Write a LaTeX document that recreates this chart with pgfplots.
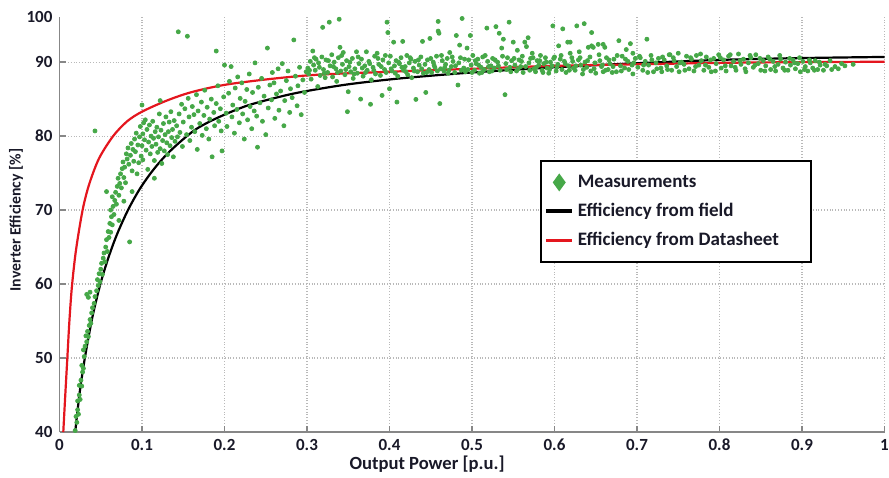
\documentclass[border=0pt]{standalone}
\usepackage{fontspec}
\setmainfont{Carlito}
\usepackage{pgfplots}
\usepackage{pgfplotstable}
\pgfplotsset{compat=1.18}
\definecolor{mygreen}{RGB}{70,168,72}
\definecolor{myred}{RGB}{228,22,30}
\definecolor{txt}{RGB}{25,25,40}
\definecolor{axgray}{RGB}{135,135,135}

\pgfplotstableread{
x y
0.019 40.2
0.021 41.3
0.020 42.1
0.022 43.0
0.023 42.4
0.022 44.2
0.024 45.0
0.025 44.4
0.024 46.3
0.026 47.0
0.027 46.2
0.028 48.1
0.027 49.0
0.029 48.6
0.030 50.2
0.029 51.1
0.031 51.6
0.033 52.2
0.032 53.0
0.034 53.6
0.035 52.9
0.036 54.4
0.037 55.2
0.038 54.7
0.039 56.1
0.040 56.8
0.042 57.4
0.033 58.6
0.035 58.2
0.037 58.9
0.043 58.3
0.045 59.1
0.047 59.8
0.046 60.6
0.049 60.3
0.048 61.4
0.050 62.0
0.052 61.3
0.051 62.8
0.053 63.5
0.055 63.0
0.054 64.2
0.056 65.0
0.058 64.4
0.057 66.0
0.059 67.1
0.057 72.5
0.060 66.3
0.061 68.2
0.062 67.0
0.063 69.1
0.064 68.0
0.062 70.0
0.065 70.5
0.066 69.4
0.067 71.3
0.064 71.8
0.068 72.4
0.069 70.8
0.070 73.2
0.072 72.0
0.073 73.6
0.071 74.3
0.074 74.9
0.075 73.0
0.076 75.6
0.078 74.4
0.077 76.5
0.079 75.8
0.080 73.7
0.082 76.9
0.081 77.6
0.084 76.2
0.085 65.7
0.083 78.4
0.086 77.4
0.087 79.0
0.088 75.3
0.089 78.2
0.090 76.6
0.091 79.6
0.092 77.9
0.093 80.4
0.094 74.9
0.095 78.8
0.096 76.4
0.097 79.9
0.098 81.3
0.099 77.3
0.043 80.7
0.072 68.6
0.078 71.2
0.088 72.5
0.100 78.7
0.101 80.3
0.102 81.8
0.101 76.8
0.103 79.5
0.104 82.2
0.105 78.1
0.106 80.9
0.107 75.5
0.108 79.2
0.109 81.5
0.110 77.6
0.111 80.0
0.112 78.6
0.113 82.0
0.114 79.7
0.115 76.7
0.116 80.6
0.117 78.9
0.118 81.2
0.119 77.8
0.120 79.9
0.121 83.0
0.122 78.3
0.123 80.8
0.124 76.3
0.125 79.4
0.126 81.7
0.127 78.0
0.128 80.2
0.129 82.6
0.130 79.1
0.131 77.5
0.132 80.6
0.133 81.9
0.134 78.7
0.135 83.3
0.136 79.8
0.137 80.9
0.138 77.2
0.139 82.1
0.140 79.3
0.100 84.2
0.122 84.8
0.115 74.3
0.142 81.4
0.143 79.9
0.144 94.1
0.145 83.0
0.146 80.5
0.148 84.3
0.149 78.6
0.150 81.9
0.152 83.7
0.154 80.2
0.155 93.5
0.156 85.1
0.157 82.6
0.158 79.4
0.160 81.2
0.161 84.0
0.163 82.9
0.164 80.6
0.166 85.6
0.167 78.2
0.168 83.4
0.170 81.7
0.172 84.6
0.173 80.1
0.175 82.8
0.176 86.2
0.178 81.0
0.179 83.9
0.181 79.6
0.182 82.3
0.184 85.0
0.185 77.2
0.187 83.2
0.188 81.4
0.190 91.5
0.190 84.4
0.192 86.8
0.193 82.0
0.195 83.7
0.196 80.7
0.197 78.0
0.199 85.3
0.200 89.6
0.202 83.1
0.203 81.3
0.205 85.8
0.206 87.4
0.208 89.4
0.209 82.6
0.210 84.2
0.212 80.4
0.213 86.5
0.215 83.6
0.216 88.0
0.218 81.8
0.219 85.1
0.221 87.2
0.222 83.0
0.224 79.6
0.225 84.7
0.227 86.3
0.228 82.2
0.230 88.4
0.231 84.0
0.233 81.0
0.234 85.9
0.236 83.4
0.237 89.9
0.239 82.7
0.240 78.5
0.241 86.6
0.243 84.5
0.245 87.8
0.246 82.0
0.248 85.4
0.250 80.2
0.252 91.9
0.253 83.8
0.255 86.9
0.257 84.9
0.258 88.6
0.260 87.2
0.261 82.4
0.263 85.7
0.265 89.1
0.266 83.5
0.268 86.1
0.270 89.8
0.272 81.4
0.273 84.8
0.275 87.5
0.277 88.8
0.279 83.2
0.280 86.4
0.282 85.2
0.284 93.0
0.286 88.1
0.288 84.1
0.289 86.8
0.291 89.3
0.293 82.9
0.295 87.6
0.297 85.9
0.299 88.7
0.301 89.2
0.302 88.4
0.304 90.1
0.305 87.7
0.307 91.5
0.308 89.6
0.310 88.9
0.311 90.4
0.313 86.7
0.314 89.9
0.316 88.2
0.318 90.7
0.319 94.7
0.320 89.0
0.322 87.9
0.323 90.3
0.325 88.6
0.327 95.4
0.328 89.5
0.330 91.0
0.331 88.0
0.333 90.0
0.335 89.1
0.336 87.4
0.338 90.6
0.339 95.8
0.340 92.0
0.341 88.8
0.343 89.7
0.344 91.3
0.346 88.3
0.348 90.2
0.349 83.3
0.350 86.0
0.351 89.4
0.353 88.7
0.355 90.5
0.356 87.8
0.358 89.1
0.360 91.4
0.361 88.5
0.363 89.8
0.365 85.0
0.366 90.4
0.368 88.1
0.370 89.5
0.372 91.4
0.373 88.9
0.375 90.1
0.377 84.3
0.378 87.6
0.380 89.3
0.382 90.8
0.383 88.4
0.385 91.2
0.387 89.7
0.389 88.2
0.391 85.5
0.392 90.3
0.394 89.0
0.396 88.6
0.397 95.4
0.398 94.0
0.399 89.9
0.400 86.4
0.401 90.8
0.403 88.8
0.405 92.7
0.406 89.5
0.408 90.2
0.409 84.6
0.410 88.1
0.412 89.8
0.414 90.6
0.416 92.8
0.417 88.9
0.419 89.4
0.421 90.9
0.422 88.3
0.424 89.9
0.426 90.4
0.427 87.9
0.429 89.2
0.431 90.1
0.432 84.96
0.434 88.7
0.436 89.6
0.438 90.7
0.440 92.8
0.441 88.5
0.443 89.7
0.444 85.9
0.446 90.3
0.448 89.0
0.449 93.2
0.451 88.6
0.453 90.0
0.455 89.3
0.457 90.8
0.459 95.5
0.459 94.2
0.460 93.9
0.461 84.4
0.462 89.1
0.464 90.2
0.466 88.8
0.468 89.7
0.470 90.5
0.472 88.9
0.473 91.3
0.475 89.4
0.477 90.1
0.479 88.6
0.481 93.6
0.483 86.9
0.484 89.9
0.485 92.3
0.486 90.6
0.488 95.9
0.490 89.2
0.492 88.7
0.494 91.9
0.496 90.3
0.498 93.6
0.499 89.6
0.501 90.9
0.503 88.9
0.505 89.8
0.507 90.4
0.509 88.5
0.511 89.3
0.513 90.7
0.515 89.0
0.518 94.6
0.519 90.1
0.521 88.7
0.523 89.5
0.525 90.5
0.527 89.2
0.529 94.8
0.531 90.0
0.533 93.9
0.534 88.9
0.536 91.9
0.538 93.1
0.540 85.6
0.541 89.8
0.543 90.6
0.545 95.4
0.546 89.3
0.548 90.2
0.550 92.7
0.552 89.6
0.554 88.8
0.555 91.6
0.557 90.3
0.559 89.4
0.561 90.8
0.562 88.6
0.564 92.7
0.566 92.1
0.568 93.3
0.569 89.9
0.571 90.5
0.573 91.2
0.575 89.1
0.577 88.7
0.579 90.2
0.581 89.6
0.583 90.9
0.585 88.9
0.587 89.8
0.589 90.6
0.591 89.2
0.593 88.5
0.595 90.0
0.597 89.5
0.598 94.9
0.600 90.7
0.602 88.8
0.604 89.7
0.605 92.2
0.607 90.4
0.609 89.0
0.610 94.5
0.612 90.1
0.614 88.6
0.616 92.7
0.617 89.5
0.619 92.7
0.619 91.2
0.621 90.6
0.623 89.2
0.625 88.9
0.627 94.9
0.629 90.3
0.630 91.4
0.632 89.6
0.634 88.4
0.636 95.2
0.637 90.0
0.639 89.3
0.641 92.0
0.643 90.7
0.645 94.0
0.645 92.2
0.647 92.0
0.648 89.1
0.650 88.5
0.653 92.4
0.655 90.2
0.657 89.4
0.659 92.4
0.659 88.7
0.661 92.0
0.663 90.6
0.665 89.0
0.667 89.8
0.670 88.6
0.672 90.4
0.675 88.7
0.678 92.9
0.680 89.5
0.682 90.8
0.685 89.2
0.687 91.7
0.689 90.1
0.692 92.5
0.694 89.6
0.695 88.4
0.695 91.2
0.698 90.5
0.701 89.3
0.704 90.6
0.707 88.9
0.710 90.1
0.712 93.1
0.714 89.6
0.717 90.9
0.720 88.7
0.723 89.9
0.726 90.5
0.729 89.2
0.730 88.7
0.733 90.3
0.736 89.5
0.739 91.0
0.740 91.0
0.742 88.9
0.745 90.2
0.748 89.4
0.750 91.2
0.751 88.7
0.754 90.0
0.757 89.7
0.760 90.8
0.763 89.1
0.766 90.4
0.769 88.8
0.772 90.9
0.775 89.6
0.778 90.2
0.781 88.9
0.784 90.7
0.787 89.3
0.790 88.7
0.793 90.5
0.796 89.8
0.799 91.0
0.802 89.2
0.805 90.3
0.808 88.8
0.811 90.8
0.814 89.5
0.817 90.1
0.820 88.9
0.823 91.1
0.826 89.7
0.829 90.4
0.832 88.7
0.835 89.9
0.838 90.6
0.841 89.3
0.844 91.0
0.847 89.8
0.850 88.9
0.853 90.2
0.856 89.5
0.859 90.7
0.862 89.0
0.865 90.1
0.868 88.8
0.871 89.7
0.874 90.4
0.877 89.2
0.880 90.0
0.883 88.9
0.886 89.6
0.889 90.3
0.892 89.1
0.895 89.8
0.898 88.7
0.901 90.1
0.904 89.4
0.907 88.8
0.910 89.9
0.913 89.2
0.916 90.2
0.919 89.0
0.922 89.6
0.926 88.9
0.930 89.5
0.936 89.0
0.940 89.4
0.948 89.8
0.952 89.5
0.962 89.7
0.303 88.9
0.309 90.6
0.315 89.3
0.321 88.5
0.326 90.2
0.332 89.4
0.337 88.6
0.342 90.9
0.347 89.0
0.352 90.0
0.357 88.4
0.362 90.7
0.367 89.2
0.371 88.6
0.376 89.8
0.381 88.9
0.386 90.5
0.390 89.4
0.395 90.9
0.402 89.1
0.407 88.5
0.411 90.0
0.415 89.3
0.420 88.7
0.425 90.6
0.430 88.8
0.435 90.3
0.439 89.1
0.445 88.6
0.450 90.5
0.454 89.6
0.458 88.8
0.463 90.9
0.467 89.3
0.471 88.5
0.476 90.7
0.480 89.5
0.487 88.9
0.491 90.4
0.495 89.0
0.500 88.6
0.504 90.2
0.508 89.6
0.512 88.6
0.516 90.9
0.520 89.4
0.524 88.8
0.528 90.3
0.532 89.5
0.537 90.8
0.542 89.0
0.547 88.7
0.551 90.5
0.556 89.1
0.560 90.1
0.565 89.4
0.570 88.9
0.574 90.6
0.578 89.3
0.582 90.2
0.586 88.6
0.590 90.0
0.594 89.0
0.599 90.5
0.603 89.3
0.608 90.9
0.613 89.8
0.618 88.9
0.622 90.1
0.626 89.5
0.631 90.6
0.635 89.0
0.640 90.2
0.644 88.8
0.649 89.9
0.654 91.0
0.658 89.6
0.662 88.9
0.666 90.3
0.671 89.4
0.676 90.9
0.681 88.8
0.686 90.4
0.690 89.0
0.696 89.9
0.703 90.8
0.708 89.6
0.713 88.6
0.718 90.3
0.724 89.1
0.731 90.7
0.737 89.0
0.744 90.6
0.752 89.9
0.758 88.9
0.765 90.6
0.771 89.4
0.777 91.1
0.783 89.6
0.789 90.3
0.795 88.8
0.801 90.6
0.807 89.5
0.813 91.0
0.819 89.3
0.825 90.2
0.831 89.1
0.837 90.9
0.843 89.6
0.849 90.5
0.855 88.8
0.861 90.4
0.867 89.4
0.873 90.9
0.879 88.9
0.885 90.5
0.891 89.9
0.897 90.6
0.903 89.0
0.909 90.3
0.915 88.9
0.921 90.0
0.928 89.7
0.934 90.2
0.944 89.1
}\meas

\pgfplotstableread{
x y
0.019 40.0
0.022 43.0
0.025 45.8
0.031 50.2
0.040 55.6
0.050 60.2
0.060 63.8
0.070 66.8
0.083 70.0
0.097 72.8
0.112 75.2
0.128 77.3
0.145 79.1
0.165 80.9
0.190 82.4
0.227 84.1
0.270 85.4
0.300 86.1
0.350 87.0
0.413 87.8
0.500 88.6
0.600 89.3
0.700 89.85
0.800 90.3
0.900 90.55
1.000 90.7
}\field

\pgfplotstableread{
x y
0.0046 40.0
0.0070 45.0
0.0095 50.0
0.0120 55.0
0.0150 59.6
0.0200 64.6
0.0280 70.0
0.0360 73.5
0.0480 77.0
0.0650 80.0
0.0820 82.0
0.1000 83.3
0.1300 84.8
0.1620 86.0
0.2100 87.1
0.3000 88.2
0.4000 88.7
0.5000 89.1
0.6000 89.5
0.7000 89.7
0.8000 89.9
0.9000 90.0
1.0000 90.05
}\sheet

\begin{document}
\begin{tikzpicture}
\begin{axis}[
  scale only axis,
  width=412.5pt, height=207.5pt,
  xmin=0, xmax=1, ymin=40, ymax=96.1,
  axis lines=left,
  axis line style={-, axgray, line width=0.9pt},
  xtick={0,0.1,...,1.0},
  xticklabels={0,0.1,0.2,0.3,0.4,0.5,0.6,0.7,0.8,0.9,1},
  ytick={40,50,...,90},
  extra y ticks={96.1},
  extra y tick labels={100},
  extra y tick style={grid=none, major tick length=0pt},
  grid=major,
  major grid style={densely dotted, gray!55, line width=0.6pt},
  tick style={axgray, line width=0.7pt},
  major tick length=3pt,
  tick align=inside,
  /pgf/number format/assume math mode=true,
  tick label style={font=\fontsize{8.5}{10}\selectfont\bfseries, text=txt},
  xlabel={Output Power [p.u.]},
  ylabel={Inverter Efficiency [\%]},
  xlabel style={font=\fontsize{9.3}{11}\selectfont\bfseries, text=txt,
    at={(axis description cs:0.4455,-0.077)}, anchor=center},
  ylabel style={font=\fontsize{7.9}{9.5}\selectfont\bfseries, text=txt,
    at={(axis description cs:-0.0527,0.511)}, anchor=center},
  legend style={at={(axis cs:0.582,76.8)}, anchor=north west,
    draw=black, line width=1pt, font=\fontsize{9.5}{11}\selectfont\bfseries,
    text=txt, inner xsep=2pt, inner ysep=5pt, row sep=2.4pt,
    cells={anchor=west}},
  legend cell align=left,
  clip=false,
]
\addplot[only marks, mark=*, mark size=1.0pt, mygreen, draw=none,
  legend image code/.code={\fill[mygreen] (6.5pt,4.5pt) -- (9.75pt,0pt) -- (6.5pt,-4.5pt) -- (3.25pt,0pt) -- cycle;}]
  table[x=x,y=y]{\meas};
\addlegendentry{Measurements}
\addplot[black, line width=1.1pt, smooth,
  legend image code/.code={\draw[black, line width=1.6pt] (0pt,0pt) -- (13pt,0pt);}]
  table[x=x,y=y]{\field};
\addlegendentry{Efficiency from field}
\addplot[myred, line width=1.1pt, smooth,
  legend image code/.code={\draw[myred, line width=1.6pt] (0pt,0pt) -- (13pt,0pt);}]
  table[x=x,y=y]{\sheet};
\addlegendentry{Efficiency from Datasheet\rule{12pt}{0pt}}
\end{axis}
\pgfresetboundingbox
\path[use as bounding box] (-29.75pt,-22.5pt) rectangle (414.75pt,216pt);
\end{tikzpicture}
\end{document}
